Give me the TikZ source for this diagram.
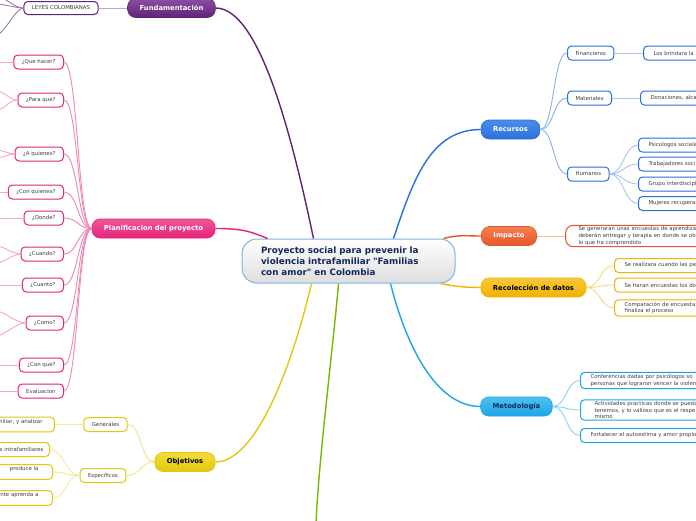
\documentclass[tikz,border=0pt]{standalone}
\usepackage{fontspec}
\setmainfont{DejaVu Sans}
\definecolor{purp}{HTML}{5E2477}
\definecolor{purptop}{HTML}{8E4FA6}
\definecolor{pinkc}{HTML}{E3247A}
\definecolor{pinktop}{HTML}{F2559A}
\definecolor{yell}{HTML}{E2C80E}
\definecolor{yelltop}{HTML}{F2DC3A}
\definecolor{bluec}{HTML}{2A70DA}
\definecolor{bluetop}{HTML}{4A8EE8}
\definecolor{orng}{HTML}{E8552A}
\definecolor{orngtop}{HTML}{F58050}
\definecolor{gold}{HTML}{F2B200}
\definecolor{goldtop}{HTML}{FBC83A}
\definecolor{sky}{HTML}{1EA5E6}
\definecolor{skytop}{HTML}{4CC2F2}
\definecolor{grn}{HTML}{7CB800}
\definecolor{navy}{HTML}{14295A}
\definecolor{rim}{HTML}{7FB4E2}

\begin{document}
\begin{tikzpicture}[x=1pt, y=1pt, every node/.style={font=\fontsize{5.4}{6.6}\selectfont},
  leaf/.style={draw=#1, line width=1pt, fill=white, rounded corners=4pt, text=black!75, inner xsep=8pt, inner ysep=2pt, minimum height=14pt},
  note/.style={leaf=#1, text width=150pt, align=left, anchor=west, inner xsep=10pt},
  topic/.style n args={3}{rounded corners=8pt, top color=#1, bottom color=#2, draw=#2, line width=0.6pt, text=#3, font=\fontsize{6.8}{8}\selectfont\bfseries, inner xsep=12pt, minimum height=19pt},
  link/.style={line width=1.4pt, draw=#1},
  twig/.style={line width=0.9pt, draw=#1}]
  \useasboundingbox (0,0) rectangle (696,-520);
  \fill[white] (0,0) rectangle (696,-520);
  \clip (0,0) rectangle (696,-520);

  \node[draw=rim, line width=1pt, rounded corners=15pt, top color=white, bottom color=black!13, text=navy, font=\fontsize{8.8}{11}\selectfont\bfseries, text width=175pt, align=left, inner xsep=19pt, minimum height=44pt] (c) at (348.5,-261) {Proyecto social para prevenir la\\violencia intrafamiliar \textquotedbl Familias\\con amor\textquotedbl{} en Colombia};

  \node[topic={purptop}{purp}{white}] (fund) at (171.5,-8) {Fundamentación};
  \node[leaf=purp, minimum height=13pt] (leyes) at (61,-8) {LEYES COLOMBIANAS};

  \node[topic={pinktop}{pinkc}{white}] (plan) at (153.5,-228.5) {Planificacion del proyecto};
  \node[leaf=pinkc, anchor=east] (q1) at (64,-62) {¿Que hacer?};
  \node[leaf=pinkc, anchor=east] (q2) at (64,-100) {¿Para que?};
  \node[leaf=pinkc, anchor=east] (q3) at (64,-154) {¿A quienes?};
  \node[leaf=pinkc, anchor=east] (q4) at (64,-192) {¿Con quienes?};
  \node[leaf=pinkc, anchor=east] (q5) at (64,-218) {¿Donde?};
  \node[leaf=pinkc, anchor=east] (q6) at (64,-254) {¿Cuando?};
  \node[leaf=pinkc, anchor=east] (q7) at (64,-285) {¿Cuanto?};
  \node[leaf=pinkc, anchor=east] (q8) at (64,-323) {¿Como?};
  \node[leaf=pinkc, anchor=east] (q9) at (64,-365) {¿Con que?};
  \node[leaf=pinkc, anchor=east] (q10) at (64,-391) {Evaluacion};

  \node[topic={yelltop}{yell}{black}] (obj) at (185,-462) {Objetivos};
  \node[leaf=yell] (gen) at (105.5,-424.5) {Generales};
  \node[leaf=yell] (esp) at (103,-475.5) {Específicos};
  \node[leaf=yell, anchor=east, text width=120pt, align=right, inner xsep=12pt] (g1) at (55,-424.5) {miliar, y analizar\\\mbox{}};
  \node[leaf=yell, anchor=east, text width=120pt, align=right, inner xsep=6pt] (e1) at (50,-449.5) {s intrafamiliares};
  \node[leaf=yell, anchor=east, text width=120pt, align=right, inner xsep=14pt] (e2) at (53,-472) {produce la\\\mbox{}};
  \node[leaf=yell, anchor=east, text width=120pt, align=right, inner xsep=14pt] (e3) at (53,-498) {nte aprenda a\\\mbox{}};

  \node[topic={bluetop}{bluec}{white}] (rec) at (510.5,-129.5) {Recursos};
  \node[leaf=bluec, anchor=west] (fin) at (567,-53) {Financieros};
  \node[leaf=bluec, anchor=west] (mat) at (567,-98) {Materiales};
  \node[leaf=bluec, anchor=west] (hum) at (567,-174) {Humanos};
  \node[note=bluec] (fin1) at (643,-53) {Los brindara la a};
  \node[note=bluec] (mat1) at (640,-98) {Donaciones, alca};
  \node[note=bluec] (h1) at (638,-145) {Psicologos sociale};
  \node[note=bluec] (h2) at (638,-164) {Trabajadores soci};
  \node[note=bluec] (h3) at (638,-184) {Grupo interdiscipl};
  \node[note=bluec] (h4) at (638,-203.5) {Mujeres recuperad};

  \node[topic={orngtop}{orng}{white}] (imp) at (509,-236) {Impacto};
  \node[note=orng, inner xsep=13pt, inner ysep=1.5pt, rounded corners=8pt] (imp1) at (565,-236) {Se generaran unas encuestas de aprendiza\\deberán entregar y terapia en donde se ob\\lo que ha comprendido};

  \node[topic={goldtop}{gold}{black}] (rd) at (533.5,-287.5) {Recolección de datos};
  \node[note=gold] (rd1) at (614,-265.5) {Se realizara cuando las pe};
  \node[note=gold] (rd2) at (614,-285) {Se haran encuestas los do};
  \node[note=gold] (rd3) at (614,-308) {Comparación de encuesta\\finaliza el proceso};

  \node[topic={skytop}{sky}{navy}] (met) at (516.5,-406.5) {Metodología};
  \node[note=sky] (m1) at (580,-380.5) {Conferencias dadas por psicólogos so\\personas que lograron vencer la violen};
  \node[note=sky, inner xsep=14pt, inner ysep=1.5pt] (m2) at (580,-410) {Actividades practicas donde se pueda\\tenemos, y lo valioso que es el respe\\mismo};
  \node[note=sky] (m3) at (580,-435.5) {Fortalecer el autoestima y amor propio};

  \draw[link=purp] (fund.east) .. controls +(45,0) and +(-20,95) .. ([xshift=-35pt]c.north);
  \draw[link=pinkc] (plan.east) .. controls +(30,0) and +(-15,6) .. ([xshift=26pt]c.north west);
  \draw[link=yell] (obj.east) .. controls +(40,0) and +(-20,-85) .. ([xshift=-37pt]c.south);
  \draw[link=grn] ([xshift=-10pt]c.south) .. controls +(-5,-60) and +(2,60) .. (316,-525);
  \draw[link=bluec] ([xshift=45pt]c.north) .. controls +(20,60) and +(-50,0) .. (rec.west);
  \draw[link=orng] ([xshift=-12pt]c.north east) .. controls +(15,4) and +(-15,0) .. (imp.west);
  \draw[link=gold] ([xshift=-15pt]c.south east) .. controls +(15,-3) and +(-15,0) .. (rd.west);
  \draw[link=sky] ([xshift=42pt]c.south) .. controls +(15,-60) and +(-45,0) .. (met.west);

  \draw[twig=purp!40] (fund.west) -- (leyes.east);
  \draw[twig=purp!60] (leyes.west) .. controls +(-8,0) and +(6,-2) .. (2,2);
  \draw[twig=purp!60] (leyes.west) .. controls +(-8,0) and +(8,0) .. (-4,-4);
  \draw[twig=purp!60] (leyes.west) .. controls +(-8,0) and +(8,0) .. (-4,-35);

  \draw[twig=pinkc!55] (plan.west) .. controls +(-14,0) and +(14,0) .. (q1.east);
  \draw[twig=pinkc!55] (plan.west) .. controls +(-14,0) and +(14,0) .. (q2.east);
  \draw[twig=pinkc!55] (plan.west) .. controls +(-14,0) and +(14,0) .. (q3.east);
  \draw[twig=pinkc!55] (plan.west) .. controls +(-14,0) and +(14,0) .. (q4.east);
  \draw[twig=pinkc!55] (plan.west) .. controls +(-14,0) and +(14,0) .. (q5.east);
  \draw[twig=pinkc!55] (plan.west) .. controls +(-14,0) and +(14,0) .. (q6.east);
  \draw[twig=pinkc!55] (plan.west) .. controls +(-14,0) and +(14,0) .. (q7.east);
  \draw[twig=pinkc!55] (plan.west) .. controls +(-14,0) and +(14,0) .. (q8.east);
  \draw[twig=pinkc!55] (plan.west) .. controls +(-14,0) and +(14,0) .. (q9.east);
  \draw[twig=pinkc!55] (plan.west) .. controls +(-14,0) and +(14,0) .. (q10.east);

  \draw[twig=pinkc!40] (q1.west) -- (-4,-62);
  \draw[twig=pinkc!40] (q2.west) .. controls +(-8,0) and +(8,0) .. (-4,-91);
  \draw[twig=pinkc!40] (q2.west) .. controls +(-8,0) and +(8,0) .. (-4,-110);
  \draw[twig=pinkc!40] (q3.west) .. controls +(-6,0) and +(6,0) .. (-4,-150);
  \draw[twig=pinkc!40] (q3.west) .. controls +(-6,0) and +(6,0) .. (-4,-158);
  \draw[twig=pinkc!40] (q4.west) -- (-4,-192);
  \draw[twig=pinkc!40] (q5.west) -- (-4,-218);
  \draw[twig=pinkc!40] (q6.west) .. controls +(-8,0) and +(8,0) .. (-4,-246);
  \draw[twig=pinkc!40] (q6.west) .. controls +(-8,0) and +(8,0) .. (-4,-263);
  \draw[twig=pinkc!40] (q7.west) -- (-4,-285);
  \draw[twig=pinkc!40] (q8.west) .. controls +(-10,0) and +(8,0) .. (-4,-311);
  \draw[twig=pinkc!40] (q8.west) .. controls +(-10,0) and +(8,0) .. (-4,-336);
  \draw[twig=pinkc!40] (q9.west) -- (-4,-365);
  \draw[twig=pinkc!40] (q10.west) -- (-4,-391);

  \draw[twig=yell!50] (obj.west) .. controls +(-14,0) and +(14,0) .. (gen.east);
  \draw[twig=yell!50] (obj.west) .. controls +(-14,0) and +(14,0) .. (esp.east);
  \draw[twig=yell!40] (gen.west) -- (g1.east);
  \draw[twig=yell!40] (esp.west) .. controls +(-14,0) and +(14,0) .. (e1.east);
  \draw[twig=yell!40] (esp.west) .. controls +(-14,0) and +(14,0) .. (e2.east);
  \draw[twig=yell!40] (esp.west) .. controls +(-14,0) and +(14,0) .. (e3.east);

  \draw[twig=bluec!55] (rec.east) .. controls +(14,0) and +(-14,0) .. (fin.west);
  \draw[twig=bluec!55] (rec.east) .. controls +(14,0) and +(-14,0) .. (mat.west);
  \draw[twig=bluec!55] (rec.east) .. controls +(14,0) and +(-14,0) .. (hum.west);
  \draw[twig=bluec!40] (fin.east) -- (fin1.west);
  \draw[twig=bluec!40] (mat.east) -- (mat1.west);
  \draw[twig=bluec!40] (hum.east) .. controls +(14,0) and +(-14,0) .. (h1.west);
  \draw[twig=bluec!40] (hum.east) .. controls +(14,0) and +(-14,0) .. (h2.west);
  \draw[twig=bluec!40] (hum.east) .. controls +(14,0) and +(-14,0) .. (h3.west);
  \draw[twig=bluec!40] (hum.east) .. controls +(14,0) and +(-14,0) .. (h4.west);

  \draw[twig=orng!40] (imp.east) -- (imp1.west);

  \draw[twig=gold!50] (rd.east) .. controls +(14,0) and +(-14,0) .. (rd1.west);
  \draw[twig=gold!50] (rd.east) .. controls +(14,0) and +(-14,0) .. (rd2.west);
  \draw[twig=gold!50] (rd.east) .. controls +(14,0) and +(-14,0) .. (rd3.west);

  \draw[twig=sky!50] (met.east) .. controls +(14,0) and +(-14,0) .. (m1.west);
  \draw[twig=sky!50] (met.east) .. controls +(14,0) and +(-14,0) .. (m2.west);
  \draw[twig=sky!50] (met.east) .. controls +(14,0) and +(-14,0) .. (m3.west);
\end{tikzpicture}
\end{document}
